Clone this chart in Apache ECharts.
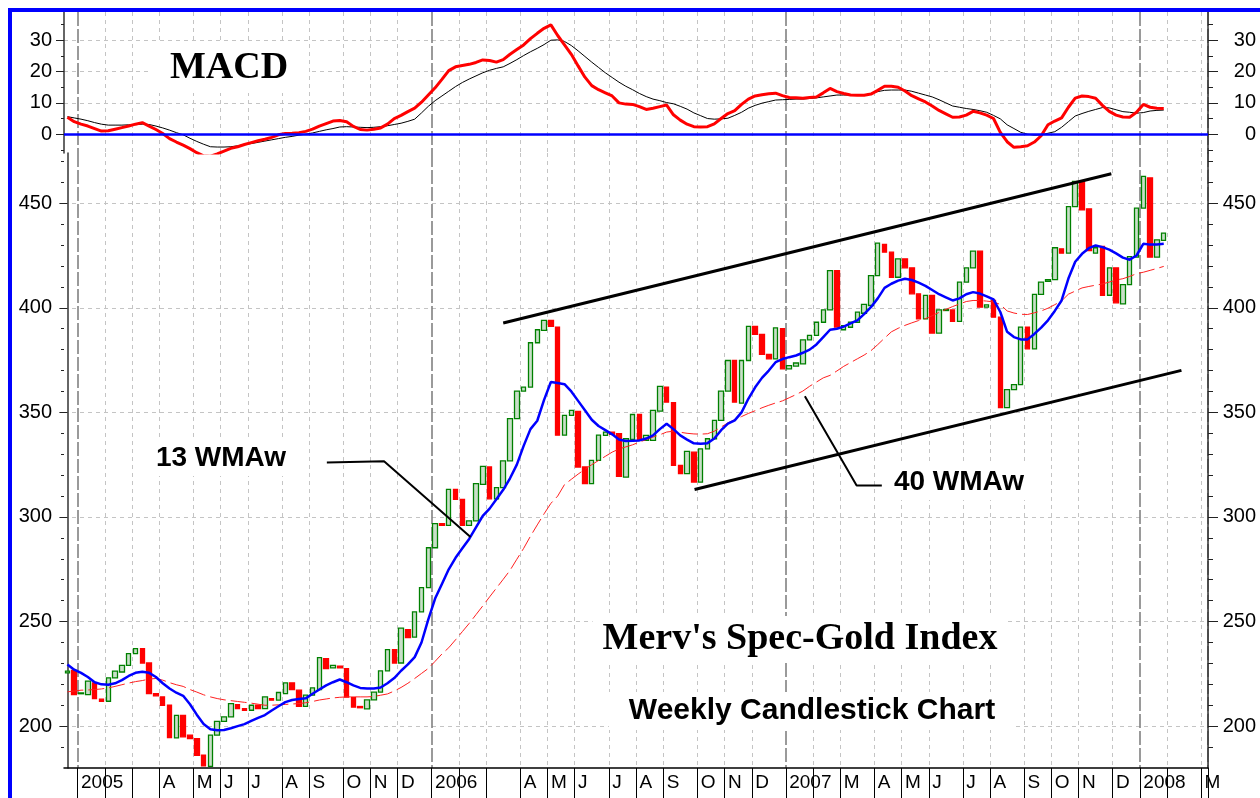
<!DOCTYPE html>
<html>
<head>
<meta charset="utf-8">
<script src="https://cdn.jsdelivr.net/npm/echarts@6/dist/echarts.min.js"></script>
<style>
  html, body { margin: 0; padding: 0; background: #fff; }
  #chart { width: 1260px; height: 798px; }
</style>
</head>
<body>
<div id="chart"></div>
<script>
// Weekly bars, Fridays, starting two weeks before 2005.
const FIRST_WEEK_UTC = Date.UTC(2004, 11, 24);
const WEEK_COUNT = 168;

// One entry per month from Jan 2005; blanks are months the original leaves unlabelled.
const MONTH_LABELS = [
  "2005", "", "", "A", "M", "J", "J", "A", "S", "O", "N", "D",
  "2006", "", "", "A", "M", "J", "J", "A", "S", "O", "N", "D",
  "2007", "", "M", "A", "M", "J", "J", "A", "S", "O", "N", "D",
  "2008", "", "M",
];

const OPEN = [
  225.5, 226.7, 215.5, 215.1, 220.7, 212.9, 211.9, 223.1, 225.9, 229.1,
  234.7, 237.1, 230.2, 215.6, 214.0, 210.0, 194.4, 205.2, 195.7, 194.0,
  186.1, 180.8, 195.7, 202.3, 204.4, 210.3, 208.4, 207.6, 210.0, 208.4,
  213.2, 212.4, 215.6, 220.7, 217.2, 209.5, 214.8, 217.5, 232.3, 227.9,
  228.7, 227.5, 213.9, 209.4, 208.3, 212.6, 216.3, 226.4, 236.6, 230.2,
  246.1, 242.6, 254.6, 266.2, 285.3, 296.8, 296.0, 313.2, 308.4, 296.0,
  298.1, 315.6, 323.9, 308.7, 314.0, 326.8, 347.0, 360.2, 362.1, 383.3,
  389.2, 394.0, 390.8, 339.1, 348.6, 350.5, 323.9, 315.9, 327.1, 339.0,
  340.6, 339.8, 319.1, 337.1, 349.0, 336.6, 336.6, 350.6, 362.1, 354.6,
  324.7, 320.7, 331.0, 316.7, 332.6, 337.4, 346.2, 360.2, 374.8, 354.4,
  374.8, 391.1, 387.3, 377.7, 375.6, 390.0, 370.8, 372.1, 373.2, 384.7,
  386.8, 393.1, 399.0, 417.8, 389.5, 390.7, 393.1, 397.4, 401.1, 415.4,
  430.3, 426.6, 414.6, 423.4, 419.1, 406.7, 394.7, 405.9, 387.9, 398.7,
  399.0, 393.5, 412.3, 419.1, 427.1, 400.3, 403.5, 395.5, 352.3, 360.9,
  363.3, 390.7, 380.4, 406.4, 412.7, 413.5, 428.2, 426.1, 448.4, 460.4,
  447.3, 426.1, 429.3, 406.0, 419.1, 401.9, 411.1, 424.2, 447.6, 462.1,
  424.2, 432.2,
];

const CLOSE = [
  226.3, 215.1, 215.9, 221.5, 213.2, 211.9, 223.1, 226.3, 229.1, 234.7,
  237.1, 230.2, 215.6, 214.5, 210.0, 194.5, 205.2, 194.9, 194.0, 186.1,
  181.0, 195.7, 202.3, 204.4, 210.8, 208.4, 207.6, 210.0, 208.4, 214.0,
  212.4, 216.1, 220.7, 217.5, 209.5, 214.8, 218.3, 232.8, 227.5, 229.1,
  227.9, 213.9, 209.1, 208.8, 212.6, 216.3, 226.4, 236.6, 230.2, 246.9,
  242.3, 254.6, 266.2, 285.3, 296.8, 296.0, 313.2, 308.4, 296.0, 298.1,
  315.9, 324.2, 308.7, 314.0, 326.8, 347.0, 360.2, 362.1, 383.3, 389.5,
  394.0, 391.1, 339.1, 348.6, 351.0, 323.9, 315.9, 327.1, 339.1, 340.6,
  339.5, 319.4, 337.4, 349.0, 336.6, 339.0, 351.0, 362.4, 354.9, 324.7,
  320.7, 331.4, 316.7, 332.6, 337.4, 346.2, 360.2, 374.8, 354.9, 374.8,
  391.1, 387.3, 377.7, 375.6, 390.4, 370.8, 372.4, 373.6, 384.7, 386.8,
  393.1, 399.0, 417.8, 390.8, 391.5, 393.1, 397.9, 401.6, 415.4, 430.9,
  426.6, 414.6, 423.4, 419.1, 406.7, 394.7, 405.9, 387.9, 399.0, 399.2,
  393.5, 412.3, 419.1, 427.1, 400.3, 401.4, 395.5, 352.3, 360.9, 363.3,
  390.8, 380.4, 406.4, 412.3, 413.5, 428.7, 426.1, 448.4, 460.4, 446.8,
  427.4, 428.7, 406.0, 419.1, 402.4, 411.1, 424.5, 447.6, 462.8, 424.2,
  432.5, 435.7,
];

// 13-week weighted moving average (blue).
const WMA13 = [
  229.5, 227.0, 225.5, 223.5, 221.0, 220.0, 219.8, 220.5, 222.0, 224.0,
  225.5, 226.0, 225.5, 223.5, 220.5, 218.0, 216.0, 214.5, 210.5, 205.5,
  201.0, 198.5, 198.0, 198.2, 199.0, 200.0, 201.0, 202.5, 204.0, 205.3,
  207.5, 209.5, 211.5, 212.5, 213.0, 213.3, 215.5, 217.5, 219.5, 221.0,
  222.3, 221.0, 219.5, 218.3, 218.0, 218.0, 218.5, 220.5, 223.0, 226.5,
  229.5, 233.0, 240.0, 251.0, 261.0, 268.0, 275.0, 280.5, 285.0, 289.5,
  295.0, 300.5, 304.0, 308.5, 313.0, 318.5, 325.0, 334.0, 342.0, 346.0,
  356.0, 364.5, 364.0, 363.5, 360.0, 355.5, 351.0, 346.5, 343.5, 341.5,
  339.5, 337.0, 336.3, 336.4, 336.6, 337.5, 339.0, 342.0, 344.6, 342.0,
  339.0, 337.0, 335.2, 335.0, 335.3, 337.5, 341.5, 344.6, 346.2, 350.0,
  356.5, 362.0, 366.5, 370.0, 374.0, 375.5, 376.4, 377.2, 378.5, 380.0,
  382.5, 386.0, 389.5, 390.0, 391.0, 392.5, 394.0, 397.0, 400.3, 404.5,
  409.5, 411.5, 413.0, 413.9, 413.3, 412.0, 410.5, 408.5, 406.5, 405.0,
  403.5, 404.5, 406.5, 407.5, 406.8, 405.5, 404.0, 398.0, 388.5, 386.0,
  384.9, 384.9, 387.5, 390.5, 394.0, 398.5, 403.5, 414.0, 422.0, 425.8,
  428.5, 429.8, 429.0, 427.8, 426.0, 424.0, 423.0, 425.0, 430.6, 430.2,
  430.3, 430.6,
];

// 40-week weighted moving average (thin red).
const WMA40 = [
  216.4, 216.8, 217.2, 217.3, 217.5, 217.8, 218.3, 219.0, 219.8, 220.6,
  221.3, 221.8, 222.5, 222.8, 222.0, 220.8, 219.8, 219.0, 217.5, 216.3,
  215.0, 214.0, 213.2, 212.6, 212.2, 211.8, 211.4, 211.0, 210.5, 210.0,
  210.0, 210.2, 210.4, 210.6, 210.8, 211.2, 211.8, 212.5, 213.0, 213.5,
  213.8, 214.0, 214.0, 214.0, 214.0, 214.2, 214.8, 215.4, 216.8, 218.5,
  220.5, 222.8, 225.2, 227.6, 231.0, 234.5, 237.5, 241.3, 245.2, 249.1,
  253.3, 257.5, 261.8, 266.0, 270.2, 274.5, 279.8, 285.0, 290.8, 296.2,
  301.5, 306.5, 310.0, 315.5, 318.0, 320.5, 322.8, 325.0, 327.0, 329.0,
  331.0, 332.5, 333.5, 334.5, 335.8, 337.0, 338.2, 339.3, 340.6, 341.0,
  340.5, 340.0, 339.7, 339.6, 339.8, 341.0, 343.0, 345.0, 346.5, 348.0,
  349.5, 350.8, 352.2, 353.4, 354.5, 355.5, 357.0, 358.5, 360.2, 362.5,
  364.5, 366.5, 367.7, 369.8, 372.0, 373.8, 375.6, 377.4, 379.5, 382.4,
  385.5, 388.5, 390.2, 391.6, 392.8, 393.9, 394.8, 396.2, 397.8, 399.2,
  400.6, 401.8, 403.0, 403.5, 403.5, 403.2, 402.8, 401.6, 398.5, 397.5,
  396.9, 396.8, 397.6, 398.5, 399.8, 401.5, 403.3, 406.5, 408.0, 409.5,
  410.2, 410.8, 411.4, 412.3, 413.3, 413.9, 415.0, 416.3, 417.0, 417.9,
  418.8, 419.8,
];

const MACD = [
  5.4, 4.0, 3.2, 2.6, 1.8, 1.0, 1.1, 1.6, 2.1, 2.6,
  3.2, 3.7, 2.6, 1.5, 0.2, -1.4, -2.5, -3.5, -4.6, -5.9,
  -6.9, -7.0, -6.3, -5.4, -4.5, -4.0, -3.3, -2.7, -2.1, -1.6,
  -1.0, -0.2, 0.2, 0.3, 0.5, 0.9, 1.6, 2.6, 3.4, 4.2,
  4.4, 4.0, 2.5, 1.5, 1.3, 1.6, 2.0, 3.2, 5.0, 6.0,
  7.2, 8.3, 10.2, 12.5, 14.8, 17.5, 20.3, 21.5, 21.9, 22.3,
  22.9, 23.7, 23.5, 23.0, 23.8, 25.5, 27.0, 28.5, 30.5, 32.2,
  33.8, 34.9, 31.5, 28.5, 25.5, 21.8, 18.2, 15.5, 14.2, 13.2,
  12.2, 10.0, 9.6, 9.5, 8.8, 7.9, 8.3, 8.8, 9.3, 6.2,
  4.5, 3.2, 2.4, 2.3, 2.4, 3.3, 5.0, 6.6, 7.5, 9.5,
  11.2, 12.2, 12.6, 12.9, 13.1, 12.3, 11.7, 11.6, 11.5, 11.7,
  11.9, 13.2, 14.6, 13.6, 13.0, 12.5, 12.4, 12.4, 12.8, 14.0,
  15.3, 15.3, 15.0, 13.8, 12.3, 11.3, 10.3, 9.0, 7.6, 6.5,
  5.4, 5.5, 6.1, 7.3, 6.8, 6.1, 5.0, 0.6, -2.4, -4.2,
  -4.0, -3.7, -2.5, -0.5, 3.0, 4.2, 5.2, 8.6, 11.5, 12.2,
  12.0, 11.5, 9.2, 7.3, 6.1, 5.5, 5.4, 7.0, 9.5, 8.6,
  8.3, 8.2,
];

const SIGNAL = [
  5.6, 5.2, 4.8, 4.3, 3.7, 3.2, 2.9, 2.9, 2.9, 3.0,
  3.1, 3.2, 3.1, 2.6, 2.0, 1.3, 0.5, -0.2, -1.3, -2.3,
  -3.2, -4.0, -4.1, -4.1, -4.0, -3.7, -3.3, -3.0, -2.6, -2.2,
  -1.8, -1.4, -1.0, -0.7, -0.3, 0.0, 0.4, 0.9, 1.4, 1.8,
  2.3, 2.4, 2.3, 2.2, 2.1, 2.2, 2.4, 2.7, 3.1, 3.5,
  4.1, 4.8, 6.8, 8.9, 10.7, 12.2, 13.7, 15.2, 16.5, 17.6,
  18.6, 19.6, 20.4, 21.0, 21.5, 22.6, 23.8, 25.1, 26.3, 27.4,
  28.6, 30.0, 30.1, 29.6, 28.3, 26.6, 24.8, 23.0, 21.3, 19.6,
  18.1, 16.6, 15.3, 14.2, 13.0, 12.0, 11.2, 10.7, 10.1, 9.7,
  8.9, 8.0, 6.8, 5.9, 5.0, 4.8, 4.9, 5.1, 6.0, 7.0,
  8.3, 9.2, 9.9, 10.4, 10.9, 11.0, 11.1, 11.2, 11.2, 11.4,
  11.6, 11.9, 12.2, 12.5, 12.5, 12.5, 12.5, 12.5, 13.0, 13.6,
  14.0, 14.1, 14.1, 14.1, 13.7, 13.1, 12.5, 11.9, 11.0, 10.0,
  9.0, 8.6, 8.2, 7.9, 7.5, 7.0, 6.0, 4.9, 3.0, 1.8,
  0.6, 0.0, -0.3, -0.2, 0.3, 0.8, 2.2, 4.0, 5.8, 6.6,
  7.3, 7.9, 8.5, 8.4, 7.8, 7.2, 7.0, 6.7, 6.9, 7.4,
  7.6, 7.7,
];

const PRICE_TICKS = [200, 250, 300, 350, 400, 450];
const PRICE_MINOR = [190, 210, 220, 230, 240, 260, 270, 280, 290, 310, 320, 330, 340,
  360, 370, 380, 390, 410, 420, 430, 440, 460, 470];
const MACD_TICKS = [0, 10, 20, 30];
const MACD_MINOR = [-5, 5, 15, 25, 35];

// Hand-drawn annotations, as [week position, price].
const UPPER_CHANNEL = [[64.0, 392.7], [153.3, 464.1]];
const LOWER_CHANNEL = [[92.1, 313.1], [163.6, 370.1]];
const CALLOUT_13 = [[38.1, 326.0], [46.5, 326.6], [59.2, 290.4]];
const CALLOUT_40 = [[108.3, 357.7], [115.9, 315.1], [119.6, 315.1]];

const FONT = "Liberation Sans";
const GRID_LINE = { color: "#c4c4c4", width: 1, type: [4, 4] };
const YEAR_LINE = { color: "#7a7a7a", width: 1.5, type: [14, 3] };

// --- week categories and month boundaries ---------------------------------
const weeks = [];
for (let i = 0; i < WEEK_COUNT; i += 1) {
  weeks.push(new Date(FIRST_WEEK_UTC + i * 7 * 864e5).toISOString().slice(0, 10));
}
const monthStart = weeks.map((d, i) => i > 0 && d.slice(5, 7) !== weeks[i - 1].slice(5, 7));
const yearStart = weeks.map((d, i) => monthStart[i] && d.slice(5, 7) === "01");
const labelAt = {};
let monthNo = 0;
weeks.forEach((d, i) => {
  if (monthStart[i]) {
    labelAt[i] = MONTH_LABELS[monthNo] || "";
    monthNo += 1;
  }
});

const candles = OPEN.map((o, i) => [o, CLOSE[i], Math.min(o, CLOSE[i]), Math.max(o, CLOSE[i])]);

function weekAxis(gridIndex, extra) {
  return {
    type: "category",
    gridIndex,
    data: weeks,
    boundaryGap: true,
    axisLine: { show: false },
    axisTick: { show: false },
    axisLabel: { show: false },
    splitLine: { show: false },
    ...extra,
  };
}

function priceAxis(gridIndex, position, min, max, ticks, major) {
  const left = position === "left";
  return {
    type: "value",
    gridIndex,
    position,
    min,
    max,
    axisLine: { show: major, lineStyle: { color: "#333", width: 1.5 } },
    axisTick: {
      show: true,
      customValues: ticks,
      length: major ? (left ? 8 : 10) : (left ? 3 : 5),
      lineStyle: { color: "#222", width: 1 },
    },
    axisLabel: major
      ? {
          show: true,
          customValues: ticks,
          fontFamily: FONT,
          fontSize: 20,
          color: "#000",
          margin: left ? 12 : 48,
          align: "right",
        }
      : { show: false },
    splitLine: { show: major && left, lineStyle: GRID_LINE },
  };
}

function polyline(data, width) {
  return {
    type: "line",
    xAxisIndex: 4,
    yAxisIndex: 4,
    data,
    symbol: "none",
    silent: true,
    z: 6,
    lineStyle: { color: "#000", width },
  };
}

// Captions sit on white boxes that mask the grid, as in the original.
function caption(text, x, y, font, padding) {
  return {
    type: "text",
    x,
    y,
    z: 50,
    silent: true,
    style: {
      text,
      font,
      fill: "#000",
      align: "center",
      verticalAlign: "middle",
      backgroundColor: "#fff",
      padding,
    },
  };
}

const option = {
  animation: false,
  backgroundColor: "#fff",
  grid: [
    { left: 64, right: 52, top: 12, height: 141 },
    { left: 64, right: 52, top: 153, bottom: 30 },
  ],
  xAxis: [
    weekAxis(0, {
      splitLine: { show: true, interval: (i) => monthStart[i] && !yearStart[i], lineStyle: GRID_LINE },
    }),
    weekAxis(0, {
      position: "top",
      splitLine: { show: true, interval: (i) => yearStart[i], lineStyle: YEAR_LINE },
    }),
    weekAxis(1, {
      position: "bottom",
      axisLine: { show: true, onZero: false, lineStyle: { color: "#000", width: 1.5 } },
      axisTick: {
        show: true,
        interval: (i) => monthStart[i],
        length: 30,
        lineStyle: { color: "#000", width: 1 },
      },
      axisLabel: {
        show: true,
        interval: (i) => monthStart[i],
        formatter: (v, i) => labelAt[i] || "",
        align: "left",
        margin: 5,
        fontFamily: FONT,
        fontSize: 19,
        color: "#000",
      },
      splitLine: { show: true, interval: (i) => monthStart[i] && !yearStart[i], lineStyle: GRID_LINE },
    }),
    weekAxis(1, {
      position: "top",
      splitLine: { show: true, interval: (i) => yearStart[i], lineStyle: YEAR_LINE },
    }),
    // Continuous week position for the hand-drawn lines (bar i sits at i).
    { type: "value", gridIndex: 1, min: -0.5, max: WEEK_COUNT - 0.5, show: false },
  ],
  yAxis: [
    priceAxis(0, "left", -6, 39, MACD_TICKS, true),
    priceAxis(0, "right", -6, 39, MACD_TICKS, true),
    priceAxis(0, "left", -6, 39, MACD_MINOR, false),
    priceAxis(0, "right", -6, 39, MACD_MINOR, false),
    priceAxis(1, "left", 180, 474, PRICE_TICKS, true),
    priceAxis(1, "right", 180, 474, PRICE_TICKS, true),
    priceAxis(1, "left", 180, 474, PRICE_MINOR, false),
    priceAxis(1, "right", 180, 474, PRICE_MINOR, false),
  ],
  series: [
    {
      type: "candlestick",
      xAxisIndex: 2,
      yAxisIndex: 4,
      data: candles,
      barWidth: 5,
      itemStyle: {
        color: "#c9dfc9",
        color0: "#ff0000",
        borderColor: "#008000",
        borderColor0: "#ff0000",
        borderWidth: 1.3,
      },
      z: 2,
    },
    {
      type: "line",
      xAxisIndex: 2,
      yAxisIndex: 4,
      data: WMA40,
      symbol: "none",
      z: 3,
      lineStyle: { color: "#ff2020", width: 1, type: [16, 5] },
    },
    {
      type: "line",
      xAxisIndex: 2,
      yAxisIndex: 4,
      data: WMA13,
      symbol: "none",
      z: 4,
      lineStyle: { color: "#0000ff", width: 2.5 },
    },
    polyline(UPPER_CHANNEL, 3),
    polyline(LOWER_CHANNEL, 3),
    polyline(CALLOUT_13, 2),
    polyline(CALLOUT_40, 2),
    {
      type: "line",
      xAxisIndex: 0,
      yAxisIndex: 0,
      data: SIGNAL,
      symbol: "none",
      z: 3,
      lineStyle: { color: "#000", width: 1 },
    },
    {
      type: "line",
      xAxisIndex: 0,
      yAxisIndex: 0,
      data: MACD,
      symbol: "none",
      z: 4,
      lineStyle: { color: "#ff0000", width: 3 },
      markLine: {
        silent: true,
        symbol: "none",
        label: { show: false },
        lineStyle: { color: "#0000ff", width: 2.5, type: "solid" },
        data: [{ yAxis: 0 }],
      },
    },
  ],
  graphic: [
    {
      type: "rect",
      shape: { x: 10, y: 10, width: 1400, height: 1000 },
      style: { fill: "none", stroke: "#0000ff", lineWidth: 4 },
      z: 100,
      silent: true,
    },
    caption("MACD", 229, 68, 'bold 38px "Liberation Serif"', [8, 20, 4, 20]),
    caption("Merv's Spec-Gold Index", 800, 639, 'bold 38px "Liberation Serif"', [4, 10]),
    caption("Weekly Candlestick Chart", 812, 711, `bold 30px "${FONT}"`, [4, 20]),
    caption("13 WMAw", 221, 458, `bold 28px "${FONT}"`, [4, 8]),
    caption("40 WMAw", 959, 482, `bold 28px "${FONT}"`, [4, 8]),
  ],
};

const chart = echarts.init(document.getElementById("chart"));
chart.setOption(option);
</script>
</body>
</html>
